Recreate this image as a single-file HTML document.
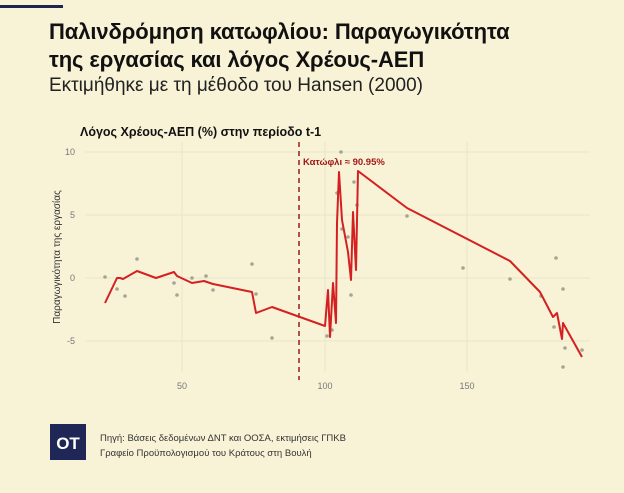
<!DOCTYPE html>
<html><head><meta charset="utf-8"><style>
body{margin:0;width:624px;height:493px;background:#f8f3d7;font-family:"Liberation Sans","DejaVu Sans",sans-serif;position:relative;overflow:hidden}
.t{position:absolute;left:49px;color:#111;white-space:nowrap}
</style></head><body>
<div style="position:absolute;left:0;top:5px;width:63px;height:3px;background:#1c2450"></div>
<div class="t" style="top:18px;font-size:22px;font-weight:bold;line-height:28px;letter-spacing:-0.1px">Παλινδρόμηση κατωφλίου: Παραγωγικότητα<br>της εργασίας και λόγος Χρέους-ΑΕΠ</div>
<div class="t" style="top:75px;font-size:19px;color:#222">Εκτιμήθηκε με τη μέθοδο του Hansen (2000)</div>
<svg width="624" height="493" style="position:absolute;left:0;top:0" font-family="Liberation Sans, DejaVu Sans, sans-serif">
<text x="80" y="136" font-size="12.5" font-weight="bold" fill="#111">Λόγος Χρέους-ΑΕΠ (%) στην περίοδο t-1</text>
<g stroke="#e9e6cc" stroke-width="1">
<line x1="85" x2="590" y1="152" y2="152"/><line x1="85" x2="590" y1="215" y2="215"/><line x1="85" x2="590" y1="278" y2="278"/><line x1="85" x2="590" y1="341" y2="341"/>
<line x1="182" x2="182" y1="142" y2="372"/><line x1="325" x2="325" y1="142" y2="372"/><line x1="467" x2="467" y1="142" y2="372"/>
</g>
<g font-size="9" fill="#777" text-anchor="end">
<text x="75" y="155">10</text><text x="75" y="218">5</text><text x="75" y="281">0</text><text x="75" y="344">-5</text></g>
<g font-size="9" fill="#777" text-anchor="middle">
<text x="182" y="389">50</text><text x="325" y="389">100</text><text x="467" y="389">150</text></g>
<text transform="translate(60,257) rotate(-90)" font-size="10" fill="#333" text-anchor="middle">Παραγωγικότητα της εργασίας</text>
<line x1="299" x2="299" y1="142" y2="380" stroke="#9b1a1a" stroke-width="1.5" stroke-dasharray="5,4"/>
<text x="303" y="165" font-size="9.5" font-weight="bold" fill="#a01818">Κατώφλι ≈ 90.95%</text>
<g fill="#a5a596">
<circle cx="105" cy="277" r="1.8"/><circle cx="117" cy="289" r="1.8"/><circle cx="125" cy="296" r="1.8"/><circle cx="137" cy="259" r="1.8"/><circle cx="174" cy="283" r="1.8"/><circle cx="177" cy="295" r="1.8"/><circle cx="192" cy="278" r="1.8"/><circle cx="206" cy="276" r="1.8"/><circle cx="213" cy="290" r="1.8"/><circle cx="252" cy="264" r="1.8"/><circle cx="256" cy="294" r="1.8"/><circle cx="272" cy="338" r="1.8"/><circle cx="327" cy="336" r="1.8"/>
<circle cx="341" cy="152" r="1.8"/><circle cx="337" cy="193" r="1.8"/><circle cx="342" cy="229" r="1.8"/><circle cx="348" cy="237" r="1.8"/><circle cx="351" cy="295" r="1.8"/><circle cx="354" cy="182" r="1.8"/><circle cx="357" cy="205" r="1.8"/><circle cx="332" cy="330" r="1.8"/><circle cx="407" cy="216" r="1.8"/><circle cx="463" cy="268" r="1.8"/><circle cx="510" cy="279" r="1.8"/><circle cx="541" cy="296" r="1.8"/><circle cx="556" cy="258" r="1.8"/><circle cx="563" cy="289" r="1.8"/><circle cx="554" cy="327" r="1.8"/><circle cx="565" cy="348" r="1.8"/><circle cx="563" cy="367" r="1.8"/><circle cx="582" cy="350" r="1.8"/>
</g>
<polyline fill="none" stroke="#d42020" stroke-width="2" stroke-linejoin="round" points="105,303 117,278 120,278 123,279 137,271 156,278 174,272 177,276 192,283 204,281 213,284 252,292 256,313 272,307 325,326 328,290 330,337 333,283 336,323 337,223 339,172 342,220 348,252 351,280 353,212 356,270 358,171 407,208 510,261 540,292 553,317 557,313 562,339 563,323 582,357"/>
<rect x="50" y="424" width="36" height="36" fill="#1e2756"/>
<text x="68" y="449" font-size="17" font-weight="bold" fill="#fff" text-anchor="middle">OT</text>
<text x="100" y="441" font-size="9.5" fill="#333">Πηγή: Βάσεις δεδομένων ΔΝΤ και  ΟΟΣΑ, εκτιμήσεις ΓΠΚΒ</text>
<text x="100" y="456" font-size="9.5" fill="#333">Γραφείο Προϋπολογισμού του Κράτους στη Βουλή</text>
</svg>
</body></html>
